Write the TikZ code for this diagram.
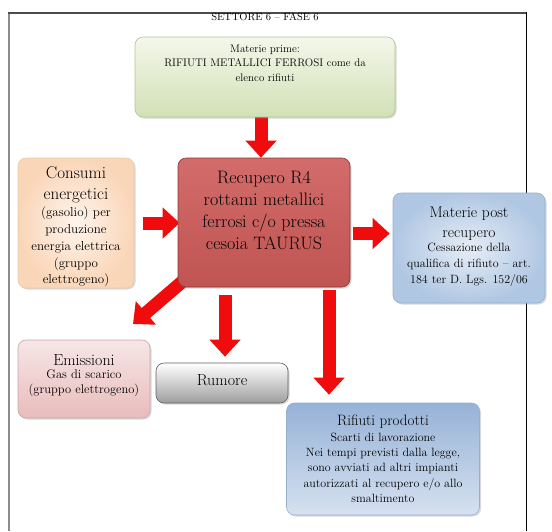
\documentclass[tikz,border=0pt]{standalone}
\usepackage{fontspec}
\usetikzlibrary{arrows.meta,shadows,backgrounds}

% palette
\definecolor{flowred}{RGB}{240,12,12}
\definecolor{greenTop}{RGB}{244,247,234}
\definecolor{greenBot}{RGB}{210,224,182}
\definecolor{greenLine}{RGB}{180,196,150}
\definecolor{redTop}{RGB}{210,108,106}
\definecolor{redMid}{RGB}{224,146,144}
\definecolor{redBot}{RGB}{192,84,82}
\definecolor{redLine}{RGB}{140,55,53}
\definecolor{orIn}{RGB}{255,244,236}
\definecolor{orOut}{RGB}{250,214,184}
\definecolor{orLine}{RGB}{238,200,168}
\definecolor{bluIn}{RGB}{230,237,246}
\definecolor{bluOut}{RGB}{176,199,227}
\definecolor{bluLine}{RGB}{150,175,205}
\definecolor{pinkTop}{RGB}{247,230,230}
\definecolor{pinkBot}{RGB}{232,188,187}
\definecolor{pinkLine}{RGB}{205,165,165}
\definecolor{grayLine}{RGB}{95,95,95}
\definecolor{wasteTop}{RGB}{150,178,215}
\definecolor{wasteBot}{RGB}{214,225,240}

% text sizes
\newcommand\szTitle{\fontsize{10.5}{12}\selectfont}
\newcommand\szGreen{\fontsize{11}{14.5}\selectfont}
\newcommand\szCore{\fontsize{18}{21.7}\selectfont}
\newcommand\szHead{\fontsize{17}{21}\selectfont}
\newcommand\szNote{\fontsize{13}{16.8}\selectfont}
\newcommand\szPost{\fontsize{15.5}{20}\selectfont}
\newcommand\szPostNote{\fontsize{12}{16}\selectfont}
\newcommand\szEmi{\fontsize{16}{19}\selectfont}
\newcommand\szEmiNote{\fontsize{12.5}{15}\selectfont}
\newcommand\szWaste{\fontsize{15}{19}\selectfont}
\newcommand\szWasteNote{\fontsize{12}{15.4}\selectfont}
% centred block of fixed size
\newcommand\blk[3]{\parbox[c][#2][c]{#1}{\centering #3}}

\begin{document}
\begin{tikzpicture}[x=1pt,y=-1pt,
  card/.style={rounded corners=8pt, line width=0.6pt, inner sep=0pt,
    drop shadow={opacity=0.3,shadow xshift=1.5pt,shadow yshift=-1.5pt}},
  flow/.style={draw=flowred, line width=13pt, -{Triangle[width=30pt,length=17pt]}}]
\useasboundingbox (0,0) rectangle (552,531);

% page frame
\draw[line width=1.6pt, draw=black!45] (9,531) -- (9,13);
\draw[line width=1.6pt, draw=black!70] (8.2,13) -- (526,13);
\draw[line width=1pt, draw=black] (526,12.2) -- (526,531);

\node (title) at (265,17) {\szTitle SETTORE 6 – FASE 6};

% process boxes
\node[card, draw=greenLine, top color=greenTop, bottom color=greenBot,
  minimum width=260pt, minimum height=80pt] (mat) at (265,77)
  {\blk{250pt}{74pt}{\szGreen Materie prime:\par RIFIUTI METALLICI FERROSI come da\par elenco rifiuti\par\vspace{28pt}}};

\node[card, draw=redLine, top color=redTop, middle color=redMid, bottom color=redBot,
  minimum width=172pt, minimum height=129pt] (rec) at (264,222.5)
  {\blk{168pt}{120pt}{\szCore Recupero R4\par rottami metallici\par ferrosi c/o pressa\par cesoia TAURUS\par\vspace{24pt}}};

\node[card, draw=orLine, shading=radial, inner color=orIn, outer color=orOut,
  minimum width=116pt, minimum height=130pt] (ene) at (76,223)
  {\blk{114pt}{126pt}{\vspace{8pt}{\szHead Consumi\par energetici\par}{\szNote (gasolio) per\par produzione\par energia elettrica\par (gruppo\par elettrogeno)\par}}};

\node[card, draw=bluLine, shading=radial, inner color=bluIn, outer color=bluOut,
  minimum width=152pt, minimum height=110pt] (post) at (469,248)
  {\blk{150pt}{104pt}{{\szPost Materie post\par recupero\par}\vspace{-2pt}{\szPostNote Cessazione della\par qualifica di rifiuto – art.\par 184 ter D. Lgs. 152/06\par}\vspace{2pt}}};

\node[card, draw=pinkLine, top color=pinkTop, bottom color=pinkBot,
  minimum width=132pt, minimum height=78pt] (emi) at (84,379)
  {\blk{130pt}{72pt}{{\szEmi Emissioni\par}\vspace{-2pt}{\szEmiNote Gas di scarico\par (gruppo elettrogeno)\par}\vspace{6pt}}};

\node[card, draw=grayLine, top color=white, bottom color=black!38,
  minimum width=132pt, minimum height=40pt] (rum) at (222,383)
  {\blk{128pt}{36pt}{\szEmi Rumore\par\vspace{5pt}}};

\node[card, draw=bluLine, top color=wasteTop, bottom color=wasteBot,
  minimum width=193pt, minimum height=112pt] (rif) at (383,459)
  {\blk{191pt}{108pt}{{\szWaste Rifiuti prodotti\par}{\szWasteNote Scarti di lavorazione\par Nei tempi previsti dalla legge,\par sono avviati ad altri impianti\par autorizzati al recupero e/o allo\par smaltimento\par}}};

\coordinate (emitip) at (133,324);

% material and energy flows
\begin{scope}[on background layer]
\draw[flow] ([xshift=-4pt]mat.south) -- ([xshift=-4pt]mat.south |- rec.north);
\draw[flow, shorten <=9pt, shorten >=-2pt] (ene.east) -- (ene.east -| rec.west);
\draw[flow, shorten <=3pt, shorten >=3pt] ([yshift=-11pt]rec.east) -- ([yshift=-11pt]rec.east -| post.west);
\draw[flow] ([shift={(5,-6)}]rec.south west) -- (emitip);
\draw[flow, shorten <=8pt, shorten >=6pt] ([xshift=3pt]rec.south -| rum.north) -- ([xshift=3pt]rum.north);
\draw[flow, shorten <=3pt, shorten >=8pt] ([xshift=65pt]rec.south) -- ([xshift=65pt]rec.south |- rif.north);
\end{scope}
\end{tikzpicture}
\end{document}
